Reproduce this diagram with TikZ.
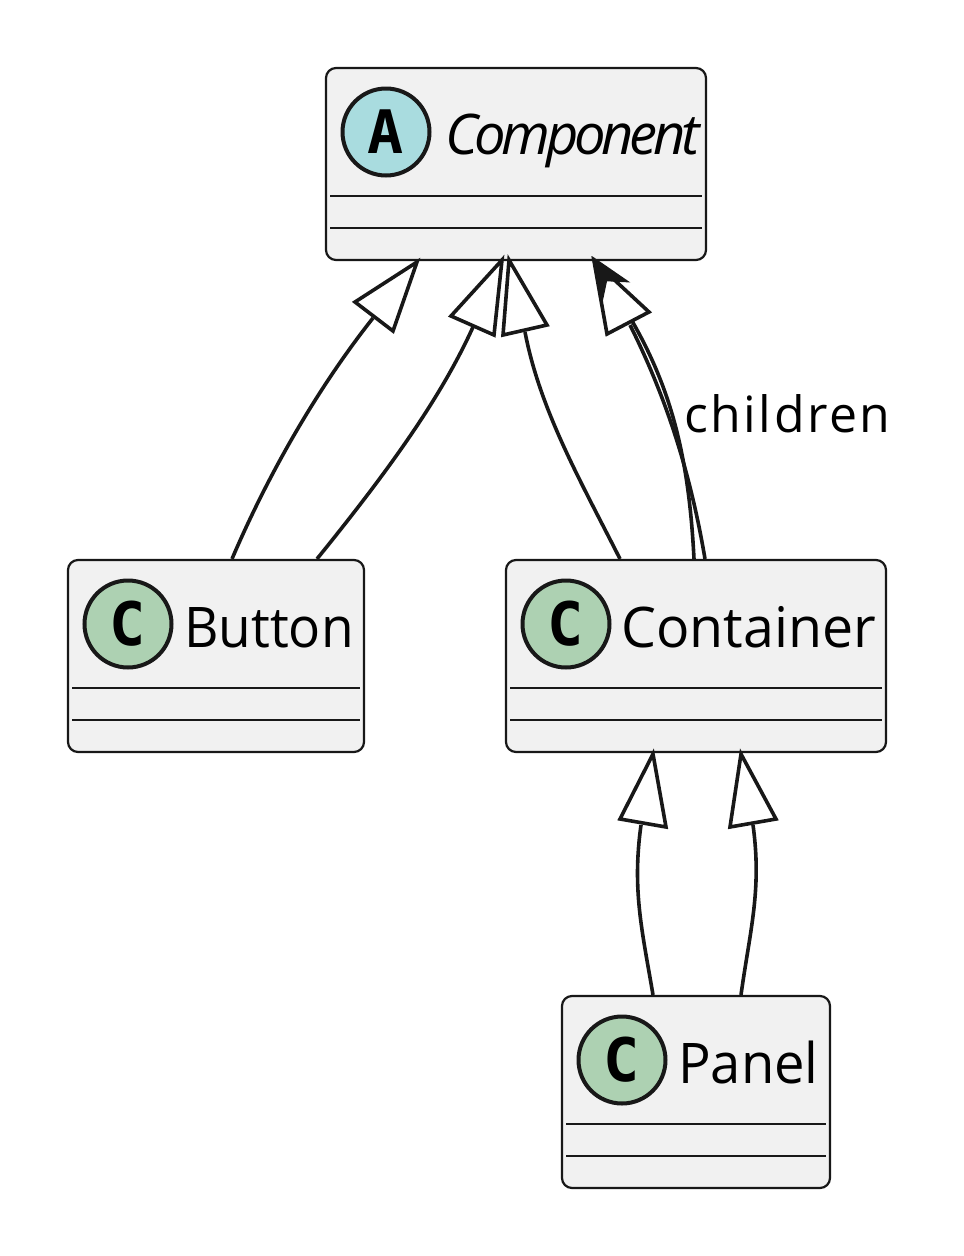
\documentclass[tikz,border=0pt]{standalone}
\usepackage{fontspec}
\usepackage{graphicx}
\setmainfont{Open Sans}
\newfontfamily\glyphfont{DejaVu Sans Mono}
\usetikzlibrary{calc}
\definecolor{ink}{HTML}{181818}
\definecolor{boxfill}{HTML}{F1F1F1}
\definecolor{absfill}{HTML}{A9DCDF}
\definecolor{clsfill}{HTML}{ADD1B2}
\tikzset{
  classbox/.style={draw=ink,fill=boxfill,line width=2.2pt,rounded corners=10pt,inner sep=0pt,minimum height=192pt},
  sep/.style={draw=ink,line width=2pt},
  badge/.style={circle,draw=ink,line width=4pt,minimum size=87pt,inner sep=0pt,text=black,font=\glyphfont\bfseries\fontsize{60}{60}\selectfont},
  absbadge/.style={badge,fill=absfill},
  clsbadge/.style={badge,fill=clsfill},
  title/.style={anchor=base west,inner sep=0pt,text=black,font=\fontsize{56}{56}\selectfont},
  edge/.style={draw=ink,line width=3.6pt},
  hollow/.style={draw=ink,fill=white,line width=3.6pt,miter limit=10},
  solid head/.style={draw=ink,fill=ink,line width=2.5pt,miter limit=10}
}
\begin{document}
\begin{tikzpicture}[x=1pt,y=-1pt]
\useasboundingbox (0,0) rectangle (964,1256);
% boxes
\node[classbox,minimum width=380pt] (comp) at (516,164) {};
\node[classbox,minimum width=296pt] (btn) at (216,656) {};
\node[classbox,minimum width=380pt] (cont) at (696,656) {};
\node[classbox,minimum width=268pt] (pan) at (696,1092) {};
% separators
\draw[sep] (330,196) -- (702,196) (330,228) -- (702,228);
\draw[sep] (72,688) -- (360,688) (72,720) -- (360,720);
\draw[sep] (510,688) -- (882,688) (510,720) -- (882,720);
\draw[sep] (566,1124) -- (826,1124) (566,1156) -- (826,1156);
% badges
\node[absbadge] (compb) at (386,132) {A};
\node[clsbadge] (btnb) at (128,624) {C};
\node[clsbadge] (contb) at (566,624) {C};
\node[clsbadge] (panb) at (622,1060) {C};
% titles
\node[title,font=\itshape\fontsize{56}{56}\selectfont] (compt) at (445,154) {\addfontfeatures{LetterSpace=-7.4}Component};
\node[title] (btnt) at (184,647) {\scalebox{.95}[1]{Button}};
\node[title] (contt) at (621,647) {\scalebox{.99}[1]{Container}};
\node[title] (pant) at (678,1083) {\scalebox{.97}[1]{Panel}};
\node[title,font=\fontsize{50}{50}\selectfont] (lab) at (684,432) {\addfontfeatures{LetterSpace=5}children};
% head coordinates
\coordinate (h1) at (373,318);
\coordinate (h2) at (473,327);
\coordinate (h3) at (525,332);
\coordinate (h4) at (630,325);
\coordinate (h5) at (606,280);
\coordinate (h6) at (641,825);
\coordinate (h7) at (753,825);
% connectors
\draw[edge] ([xshift=16pt]btn.north) .. controls (270,470) and (320,385) .. (h1);
\draw[edge] ([xshift=101pt]btn.north) .. controls (385,475) and (440,400) .. (h2);
\draw[edge] ([xshift=-76pt]cont.north) .. controls (580,480) and (540,410) .. (h3);
\draw[edge] ([xshift=9pt]cont.north) .. controls (690,470) and (665,395) .. (h4);
\draw[edge] ([xshift=-2pt]cont.north) .. controls (688,440) and (665,365) .. (h5);
\draw[edge] ([xshift=-43pt]pan.north) .. controls (642,930) and (632,890) .. (h6);
\draw[edge] ([xshift=45pt]pan.north) .. controls (750,930) and (762,890) .. (h7);
% heads
\draw[hollow] (417,262) -- (355,302) -- (393,331) -- cycle;
\draw[hollow] (502,260) -- (451,316) -- (494,335) -- cycle;
\draw[hollow] (509,260) -- (503,335) -- (547,325) -- cycle;
\draw[hollow] (594,261) -- (607,334) -- (649,312) -- cycle;
\draw[solid head] (594,259) -- (626,281) -- (606,280) -- (602,299) -- cycle;
\draw[hollow] (653,754) -- (620,819) -- (666,827) -- cycle;
\draw[hollow] (741,754) -- (730,827) -- (776,819) -- cycle;
\end{tikzpicture}
\end{document}
